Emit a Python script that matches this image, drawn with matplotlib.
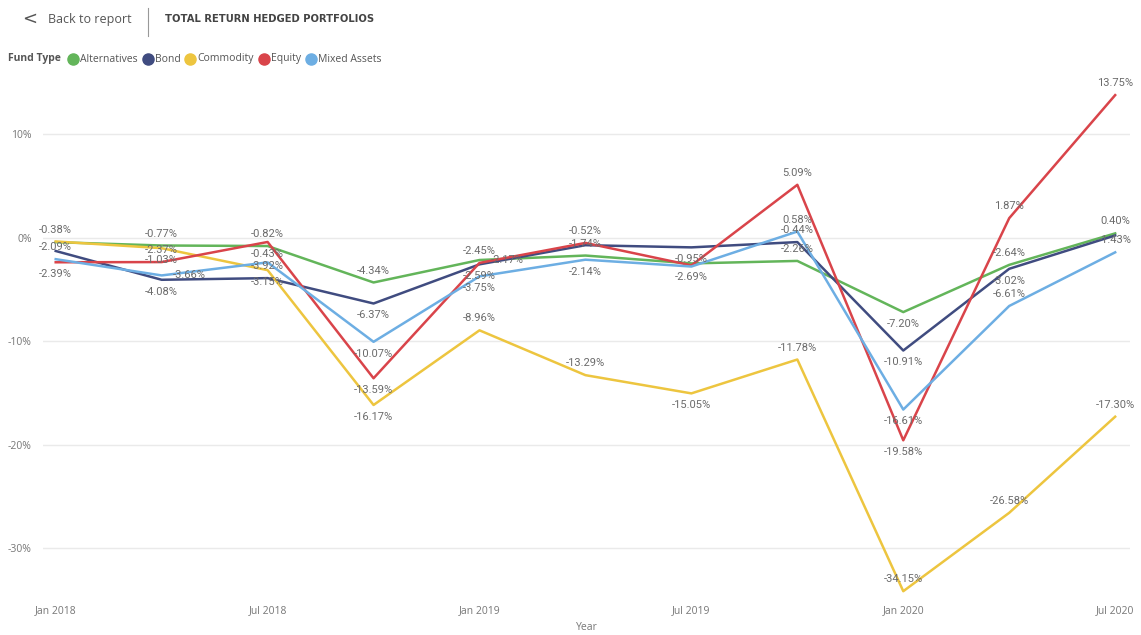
import matplotlib
matplotlib.use("Agg")
import matplotlib.pyplot as plt
from matplotlib.lines import Line2D

quarters = ["Jan 2018", "Apr 2018", "Jul 2018", "Oct 2018", "Jan 2019", "Apr 2019",
            "Jul 2019", "Oct 2019", "Jan 2020", "Apr 2020", "Jul 2020"]
tick_labels = ["Jan 2018", "Jul 2018", "Jan 2019", "Jul 2019", "Jan 2020", "Jul 2020"]

alternatives = [-0.45, -0.77, -0.82, -4.34, -2.17, -1.74, -2.50, -2.26, -7.20, -2.64, 0.40]
bond = [-1.30, -4.08, -3.92, -6.37, -2.59, -0.74, -0.95, -0.44, -10.91, -3.02, 0.20]
commodity = [-0.38, -1.03, -3.15, -16.17, -8.96, -13.29, -15.05, -11.78, -34.15, -26.58, -17.30]
equity = [-2.39, -2.37, -0.43, -13.59, -2.45, -0.52, -2.69, 5.09, -19.58, 1.87, 13.75]
mixed = [-2.09, -3.66, -2.40, -10.07, -3.75, -2.14, -2.80, 0.58, -16.61, -6.61, -1.43]

series = [("Alternatives", alternatives, "#63B55A"),
          ("Bond", bond, "#404C80"),
          ("Commodity", commodity, "#EDC53F"),
          ("Equity", equity, "#D9444A"),
          ("Mixed Assets", mixed, "#6DAEE3")]

# label placement per point: a=above, b=below, r=right, -=hidden
label_pos = {"Alternatives": "-aaara-abaa",
             "Bond": "-babb-babb-",
             "Commodity": "abbbaabaaaa",
             "Equity": "babbaababaa",
             "Mixed Assets": "ar-bbb-abaa"}

W, H = 1141, 635
fig = plt.figure(figsize=(W/100, H/100), dpi=100)
ax = fig.add_axes([43/W, 1-600/H, (1130-43)/W, (600-77)/H])

x = list(range(len(quarters)))
for name, vals, col in series:
    ax.plot(x, vals, color=col, lw=1.8, zorder=3)
    for i, v in enumerate(vals):
        p = label_pos[name][i]
        if p == "-":
            continue
        if p == "a":
            off, va, ha = (0, 5), "bottom", "center"
        elif p == "b":
            off, va, ha = (0, -5), "top", "center"
        else:
            off, va, ha = (8, 0), "center", "left"
        ax.annotate("%.2f%%" % v, (i, v), xytext=off, textcoords="offset points",
                    ha=ha, va=va, fontsize=8, color="#6b6b6b", family="Roboto", zorder=4)

ax.set_xlim(-0.12, 10.14)
ax.set_ylim(-35, 15.5)
ax.set_yticks([10, 0, -10, -20, -30])
ax.set_yticklabels(["10%", "0%", "-10%", "-20%", "-30%"])
ax.set_xticks([quarters.index(t) for t in tick_labels])
ax.set_xticklabels(tick_labels)
ax.grid(axis="y", color="#eaeaea", lw=1)
ax.set_axisbelow(True)
for s in ax.spines.values():
    s.set_visible(False)
ax.tick_params(axis="x", length=0, labelsize=7.5, colors="#777777", pad=4)
ax.tick_params(axis="y", length=0, labelsize=7.5, colors="#777777", pad=8)
for t in ax.get_xticklabels() + ax.get_yticklabels():
    t.set_family("Open Sans")
ax.set_xlabel("Year", fontsize=7.5, color="#777777", family="Open Sans", labelpad=4)

# header
fig.text(22/W, 1-19/H, "<", fontsize=13, color="#555555", va="center", family="DejaVu Sans")
fig.text(48/W, 1-19/H, "Back to report", fontsize=9, color="#555555", va="center", family="Open Sans")
fig.add_artist(Line2D([148/W, 148/W], [1-8/H, 1-36/H], color="#999999", lw=0.8))
fig.text(165/W, 1-19/H, "TOTAL RETURN HEDGED PORTFOLIOS",
         fontsize=7.2, fontweight="bold", color="#444444", va="center", family="DejaVu Sans")

# legend row
fig.text(8/W, 1-59/H, "Fund Type", fontsize=7.5, fontweight="bold", color="#555555",
         va="center", family="Open Sans")
renderer = fig.canvas.get_renderer()
xp = 73
for name, vals, col in series:
    fig.add_artist(Line2D([xp/W], [1-59/H], marker="o", markersize=8, color=col, lw=0))
    t = fig.text((xp+7)/W, 1-59/H, name, fontsize=7.5, color="#555555", va="center", family="Open Sans")
    bb = t.get_window_extent(renderer)
    xp = bb.x1 + 10

fig.savefig("out.png", dpi=100, facecolor="white")
